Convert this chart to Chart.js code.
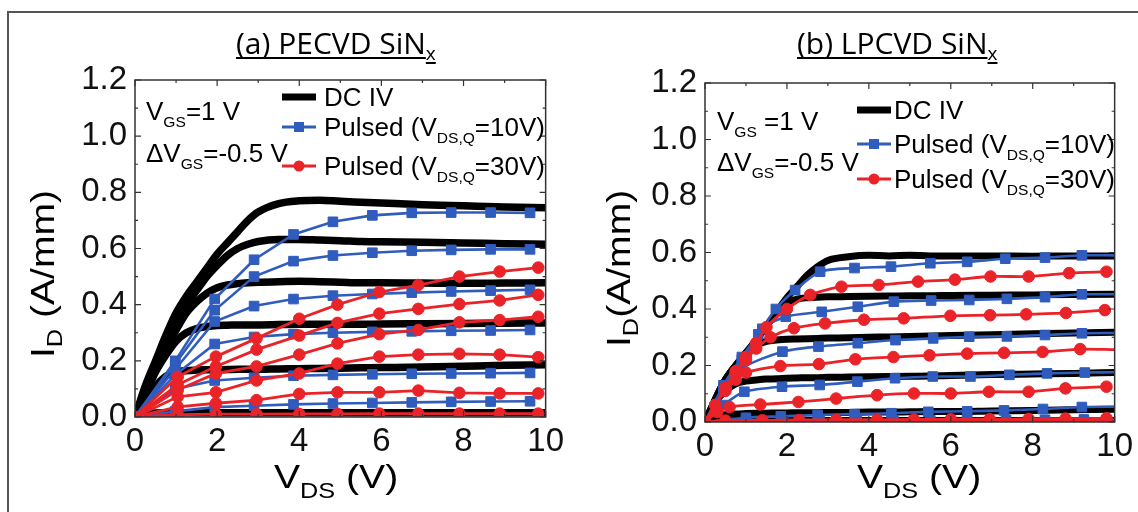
<!DOCTYPE html>
<html>
<head>
<meta charset="utf-8">
<script src="https://cdn.jsdelivr.net/npm/chart.js@4.4.1/dist/chart.umd.min.js"></script>
<style>
  html, body { margin: 0; padding: 0; background: #fff; }
  #wrap { position: relative; width: 1138px; height: 512px; overflow: hidden; background: #fff; }
  #frame { position: absolute; left: 7px; top: 11px; width: 1200px; height: 600px;
           border-left: 2px solid #555; border-top: 2px solid #555; }
  .pane { position: absolute; top: 0; width: 569px; height: 512px; }
</style>
</head>
<body>
<div id="wrap">
  <div id="frame"></div>
  <div class="pane" style="left:0"><canvas id="ca" width="569" height="512"></canvas></div>
  <div class="pane" style="left:569px"><canvas id="cb" width="569" height="512"></canvas></div>
</div>
<script>
// ---- axis ticks ----
const xTicks = [0, 2, 4, 6, 8, 10];
const xMinor = [1, 3, 5, 7, 9];
const yTicks = [0, 0.2, 0.4, 0.6, 0.8, 1.0, 1.2];
const yMinor = [0.1, 0.3, 0.5, 0.7, 0.9, 1.1];

// ---- DC output curves, VDS grid (V) ----
const dcV = [0, 0.25, 0.5, 0.75, 1, 1.25, 1.5, 1.75, 2, 2.25, 2.5, 2.75, 3, 3.5, 4, 4.5, 5, 5.5, 6, 7, 8, 9, 10];

// (a) PECVD SiNx, DC ID (A/mm), VGS = 1 V ... -1.5 V
const dcA1 = [0, 0.11, 0.2, 0.29, 0.37, 0.43, 0.48, 0.53, 0.58, 0.62, 0.66, 0.7, 0.73, 0.76, 0.77, 0.772, 0.768, 0.765, 0.762, 0.756, 0.752, 0.748, 0.745];
const dcA2 = [0, 0.1, 0.19, 0.27, 0.34, 0.4, 0.45, 0.5, 0.54, 0.575, 0.6, 0.615, 0.625, 0.632, 0.632, 0.63, 0.628, 0.625, 0.624, 0.622, 0.62, 0.617, 0.615];
const dcA3 = [0, 0.09, 0.18, 0.25, 0.31, 0.37, 0.41, 0.44, 0.46, 0.47, 0.475, 0.478, 0.48, 0.482, 0.483, 0.482, 0.48, 0.478, 0.478, 0.477, 0.476, 0.477, 0.478];
const dcA4 = [0, 0.08, 0.16, 0.22, 0.27, 0.3, 0.315, 0.322, 0.326, 0.327, 0.328, 0.328, 0.328, 0.329, 0.33, 0.33, 0.33, 0.33, 0.331, 0.332, 0.333, 0.334, 0.335];
const dcA5 = [0, 0.06, 0.11, 0.145, 0.16, 0.165, 0.167, 0.168, 0.168, 0.169, 0.17, 0.17, 0.17, 0.171, 0.172, 0.173, 0.174, 0.175, 0.176, 0.178, 0.181, 0.184, 0.186];
const dcA6 = [0, 0.01, 0.014, 0.015, 0.015, 0.015, 0.015, 0.015, 0.015, 0.015, 0.015, 0.015, 0.015, 0.015, 0.015, 0.015, 0.015, 0.015, 0.015, 0.015, 0.015, 0.015, 0.015];

// (a) pulsed, VDS,Q = 10 V
const pA10V = [0, 0.98, 1.94, 2.9, 3.86, 4.82, 5.78, 6.74, 7.7, 8.66, 9.62];
const pA10_1 = [0, 0.2, 0.42, 0.56, 0.65, 0.695, 0.718, 0.727, 0.728, 0.728, 0.727];
const pA10_2 = [0, 0.19, 0.38, 0.5, 0.555, 0.575, 0.585, 0.592, 0.595, 0.597, 0.597];
const pA10_3 = [0, 0.17, 0.34, 0.395, 0.42, 0.432, 0.438, 0.443, 0.447, 0.45, 0.453];
const pA10_4 = [0, 0.15, 0.26, 0.285, 0.295, 0.3, 0.303, 0.305, 0.307, 0.308, 0.31];
const pA10_5 = [0, 0.1, 0.13, 0.14, 0.147, 0.15, 0.152, 0.154, 0.155, 0.156, 0.157];
const pA10_6 = [0, 0.02, 0.035, 0.04, 0.045, 0.048, 0.05, 0.052, 0.054, 0.055, 0.056];

// (a) pulsed, VDS,Q = 30 V
const pA30V = [0, 1.04, 1.97, 2.96, 4.0, 4.93, 5.95, 6.9, 7.9, 8.88, 9.82];
const pA30_1 = [0, 0.143, 0.215, 0.28, 0.35, 0.4, 0.445, 0.47, 0.5, 0.518, 0.532];
const pA30_2 = [0, 0.115, 0.18, 0.24, 0.29, 0.335, 0.368, 0.385, 0.402, 0.415, 0.435];
const pA30_3 = [0, 0.096, 0.155, 0.18, 0.222, 0.262, 0.295, 0.31, 0.337, 0.345, 0.357];
const pA30_4 = [0, 0.072, 0.088, 0.13, 0.155, 0.19, 0.215, 0.222, 0.225, 0.222, 0.213];
const pA30_5 = [0, 0.036, 0.049, 0.06, 0.082, 0.088, 0.088, 0.094, 0.086, 0.084, 0.084];
const pA30_6 = [0, 0.008, 0.01, 0.01, 0.011, 0.011, 0.012, 0.012, 0.012, 0.012, 0.012];

// (b) LPCVD SiNx, DC ID (A/mm)
const dcB1 = [0, 0.08, 0.15, 0.2, 0.245, 0.29, 0.34, 0.39, 0.44, 0.48, 0.52, 0.55, 0.572, 0.585, 0.59, 0.588, 0.59, 0.588, 0.588, 0.588, 0.587, 0.588, 0.588];
const dcB2 = [0, 0.08, 0.15, 0.2, 0.245, 0.29, 0.34, 0.385, 0.42, 0.435, 0.44, 0.442, 0.443, 0.444, 0.445, 0.446, 0.447, 0.447, 0.448, 0.449, 0.45, 0.451, 0.452];
const dcB3 = [0, 0.08, 0.15, 0.2, 0.235, 0.27, 0.285, 0.29, 0.293, 0.294, 0.295, 0.296, 0.297, 0.298, 0.3, 0.301, 0.303, 0.304, 0.306, 0.309, 0.312, 0.315, 0.318];
const dcB4 = [0, 0.07, 0.11, 0.135, 0.145, 0.149, 0.152, 0.153, 0.155, 0.156, 0.157, 0.157, 0.158, 0.159, 0.16, 0.161, 0.162, 0.163, 0.165, 0.168, 0.17, 0.172, 0.175];
const dcB5 = [0, 0.02, 0.026, 0.028, 0.03, 0.031, 0.031, 0.032, 0.032, 0.033, 0.033, 0.033, 0.034, 0.034, 0.035, 0.035, 0.036, 0.037, 0.037, 0.039, 0.041, 0.043, 0.045];
const dcB6 = [0, 0.003, 0.004, 0.005, 0.005, 0.005, 0.005, 0.005, 0.005, 0.005, 0.005, 0.005, 0.005, 0.005, 0.005, 0.005, 0.005, 0.005, 0.005, 0.005, 0.005, 0.005, 0.005];

// (b) pulsed, VDS,Q = 10 V (last point at 10 V carries no marker)
const pB10V1 = [0, 0.45, 0.9, 1.3, 1.73, 2.2, 2.81, 3.65, 4.54, 5.5, 6.4, 7.33, 8.3, 9.2, 10];
const pB10I1 = [0, 0.13, 0.23, 0.31, 0.4, 0.467, 0.532, 0.545, 0.55, 0.562, 0.567, 0.578, 0.582, 0.59, 0.59];
const pB10V2 = [0, 0.45, 0.9, 1.4, 1.97, 2.85, 3.73, 4.61, 5.52, 6.45, 7.37, 8.3, 9.2, 10];
const pB10I2 = [0, 0.12, 0.22, 0.33, 0.373, 0.39, 0.408, 0.426, 0.43, 0.432, 0.436, 0.442, 0.452, 0.452];
const pB10V3 = [0, 0.45, 0.9, 1.89, 2.77, 3.73, 4.65, 5.57, 6.45, 7.37, 8.3, 9.2, 10];
const pB10I3 = [0, 0.11, 0.19, 0.249, 0.267, 0.279, 0.29, 0.296, 0.302, 0.303, 0.308, 0.314, 0.315];
const pB10V4 = [0, 0.45, 0.96, 1.88, 2.8, 3.72, 4.64, 5.56, 6.48, 7.43, 8.35, 9.27, 10];
const pB10I4 = [0, 0.06, 0.107, 0.125, 0.131, 0.143, 0.155, 0.161, 0.161, 0.167, 0.172, 0.175, 0.176];
const pB10V5 = [0, 1.0, 1.85, 2.75, 3.65, 4.55, 5.45, 6.4, 7.3, 8.25, 9.2, 10];
const pB10I5 = [0, 0.015, 0.02, 0.025, 0.028, 0.031, 0.036, 0.038, 0.041, 0.046, 0.053, 0.054];
const pB10V6 = [0, 1.0, 1.9, 2.8, 3.7, 4.6, 5.5, 6.4, 7.35, 8.3, 9.25, 10];
const pB10I6 = [0, 0.003, 0.004, 0.005, 0.005, 0.006, 0.006, 0.007, 0.007, 0.008, 0.009, 0.009];

// (b) pulsed, VDS,Q = 30 V
const pB30V1 = [0, 0.25, 0.5, 0.75, 1.0, 1.25, 1.5, 2.0, 2.57, 3.33, 4.24, 5.2, 6.1, 6.97, 7.9, 8.89, 9.8];
const pB30I1 = [0, 0.06, 0.12, 0.18, 0.23, 0.28, 0.336, 0.4, 0.45, 0.479, 0.485, 0.497, 0.504, 0.515, 0.515, 0.527, 0.532];
const pB30V2 = [0, 0.25, 0.5, 0.75, 1.0, 1.25, 1.6, 2.17, 2.93, 3.88, 4.85, 5.99, 6.96, 7.84, 8.81, 9.76];
const pB30I2 = [0, 0.06, 0.12, 0.175, 0.22, 0.26, 0.3, 0.332, 0.349, 0.362, 0.367, 0.376, 0.378, 0.381, 0.386, 0.396];
const pB30V3 = [0, 0.25, 0.5, 0.75, 1.0, 1.84, 2.78, 3.67, 4.6, 5.48, 6.4, 7.3, 8.24, 9.16, 10];
const pB30I3 = [0, 0.06, 0.11, 0.15, 0.175, 0.198, 0.205, 0.222, 0.23, 0.236, 0.242, 0.245, 0.248, 0.258, 0.256];
const pB30V4 = [0, 0.3, 0.6, 1.35, 2.28, 3.2, 4.2, 5.1, 6.0, 6.93, 7.9, 8.8, 9.8];
const pB30I4 = [0, 0.035, 0.053, 0.062, 0.071, 0.083, 0.095, 0.101, 0.101, 0.107, 0.107, 0.119, 0.125];
const pB30V5 = [0, 0.5, 1.4, 2.3, 3.2, 4.2, 5.1, 6.0, 6.95, 7.9, 8.8, 9.8];
const pB30I5 = [0, 0.005, 0.006, 0.007, 0.008, 0.008, 0.009, 0.01, 0.01, 0.011, 0.012, 0.013];
const pB30V6 = [0, 0.5, 1.4, 2.3, 3.2, 4.2, 5.1, 6.0, 6.95, 7.9, 8.8, 9.8];
const pB30I6 = [0, 0.001, 0.002, 0.002, 0.002, 0.002, 0.002, 0.003, 0.003, 0.003, 0.003, 0.003];

const BLUE = '#2f5cbd';
const RED = '#ea2328';
const SANS = '"Liberation Sans", Arial, sans-serif';
const TITLE_FONT = '"Open Sans", "Noto Sans", sans-serif';

const pts = (V, I) => V.map((v, i) => ({ x: v, y: I[i] }));

// draw a run of text pieces [text, size, dy] left to right, optionally widened by sx
function rich(ctx, x, y, parts, family, sx = 1) {
  ctx.save();
  ctx.translate(x, y);
  ctx.scale(sx, 1);
  let cx = 0;
  for (const [t, size, dy = 0] of parts) {
    ctx.font = size + 'px ' + family;
    ctx.fillText(t, cx, dy);
    cx += ctx.measureText(t).width;
  }
  ctx.restore();
  return x + cx * sx;
}

function legendRow(ctx, p, row, kind) {
  const y = row.y;
  ctx.save();
  ctx.lineCap = 'butt';
  if (kind === 'dc') {
    ctx.strokeStyle = '#000'; ctx.lineWidth = 7;
    ctx.beginPath(); ctx.moveTo(p.legX0, y); ctx.lineTo(p.legX1, y); ctx.stroke();
  } else {
    const c = kind === 'p10' ? BLUE : RED;
    ctx.strokeStyle = c; ctx.fillStyle = c; ctx.lineWidth = 3;
    ctx.beginPath(); ctx.moveTo(p.legX0, y); ctx.lineTo(p.legX1, y); ctx.stroke();
    const mx = (p.legX0 + p.legX1) / 2;
    if (kind === 'p10') ctx.fillRect(mx - 5, y - 5, 10, 10);
    else { ctx.beginPath(); ctx.arc(mx, y, 5.5, 0, Math.PI * 2); ctx.fill(); }
  }
  ctx.restore();
  ctx.fillStyle = '#000';
  ctx.textBaseline = 'alphabetic';
  rich(ctx, p.legText, y + 9, row.parts, SANS, 1.04);
}

const textPlugin = {
  id: 'panelText',
  afterDatasetsDraw(chart) {
    const p = chart.options.plugins.panelText;
    const ctx = chart.ctx;
    const a = chart.chartArea;
    const xs = chart.scales.x, ys = chart.scales.y;
    ctx.save();
    // plot frame
    ctx.strokeStyle = '#333'; ctx.lineWidth = 1.5;
    ctx.strokeRect(a.left, a.top, a.right - a.left, a.bottom - a.top);
    // inward tick marks on all four sides
    const tickX = (vals, len) => {
      vals.forEach(v => {
        const px = xs.getPixelForValue(v);
        ctx.beginPath();
        ctx.moveTo(px, a.bottom); ctx.lineTo(px, a.bottom - len);
        ctx.moveTo(px, a.top); ctx.lineTo(px, a.top + len);
        ctx.stroke();
      });
    };
    const tickY = (vals, len) => {
      vals.forEach(v => {
        const py = ys.getPixelForValue(v);
        ctx.beginPath();
        ctx.moveTo(a.left, py); ctx.lineTo(a.left + len, py);
        ctx.moveTo(a.right, py); ctx.lineTo(a.right - len, py);
        ctx.stroke();
      });
    };
    ctx.lineWidth = 1.2;
    tickX(xTicks, 6); tickX(xMinor, 3);
    tickY(yTicks, 6); tickY(yMinor, 3);

    ctx.textBaseline = 'alphabetic';
    ctx.textAlign = 'left';

    // panel title, underlined
    const t = p.title;
    ctx.fillStyle = '#000';
    ctx.font = '500 ' + t.size + 'px ' + TITLE_FONT;
    ctx.fillText(t.main, t.x, t.y);
    const mainEnd = t.x + ctx.measureText(t.main).width;
    ctx.font = '500 ' + t.subSize + 'px ' + TITLE_FONT;
    ctx.fillText(t.sub, mainEnd, t.y + t.subDy);
    const subEnd = mainEnd + ctx.measureText(t.sub).width;
    ctx.strokeStyle = '#000'; ctx.lineWidth = 1.8;
    ctx.beginPath();
    ctx.moveTo(t.x, t.y + 4); ctx.lineTo(mainEnd, t.y + 4);
    ctx.moveTo(mainEnd, t.y + t.subDy + 3); ctx.lineTo(subEnd, t.y + t.subDy + 3);
    ctx.stroke();

    ctx.fillStyle = '#000';
    // y axis title (rotated)
    ctx.save();
    ctx.translate(p.yTitle.x, p.yTitle.y);
    ctx.rotate(-Math.PI / 2);
    rich(ctx, 0, 0, p.yTitle.parts, SANS, 1.15);
    ctx.restore();
    // x axis title
    rich(ctx, p.xTitle.x, p.xTitle.y, p.xTitle.parts, SANS, 1.15);

    // bias conditions
    p.notes.forEach(n => rich(ctx, n.x, n.y, n.parts, SANS, 1.04));

    // legend
    legendRow(ctx, p, p.legend[0], 'dc');
    legendRow(ctx, p, p.legend[1], 'p10');
    legendRow(ctx, p, p.legend[2], 'p30');
    ctx.restore();
  }
};

function legendParts(q) {
  return [
    { y: q[0], parts: [['DC IV', 25]] },
    { y: q[1], parts: [['Pulsed (V', 25], ['DS,Q', 15, 7], ['=10V)', 25]] },
    { y: q[2], parts: [['Pulsed (V', 25], ['DS,Q', 15, 7], ['=30V)', 25]] }
  ];
}

function buildChart(id, cfg) {
  const datasets = [];
  cfg.dc.forEach(I => datasets.push({
    data: pts(dcV, I), borderColor: '#000', borderWidth: cfg.dcWidth,
    pointRadius: 0, cubicInterpolationMode: 'monotone', order: 3
  }));
  cfg.p10.forEach(([V, I, bare]) => datasets.push({
    data: pts(V, I), borderColor: BLUE, backgroundColor: BLUE, borderWidth: 2.6,
    pointStyle: 'rect', pointBorderWidth: 1, pointBorderColor: BLUE, pointBackgroundColor: BLUE,
    pointRadius: c => (bare && c.dataIndex === V.length - 1) ? 0 : 6.8,
    tension: cfg.tension, order: 2
  }));
  cfg.p30.forEach(([V, I, bare]) => datasets.push({
    data: pts(V, I), borderColor: RED, backgroundColor: RED, borderWidth: 2.8,
    pointStyle: 'circle', pointBorderWidth: 1, pointBorderColor: RED, pointBackgroundColor: RED,
    pointRadius: c => (bare && c.dataIndex === V.length - 1) ? 0 : 5.8,
    tension: cfg.tension, order: 1
  }));

  return new Chart(document.getElementById(id), {
    type: 'line',
    data: { datasets },
    plugins: [textPlugin],
    options: {
      responsive: false,
      animation: false,
      events: [],
      layout: { padding: cfg.pad },
      plugins: { legend: { display: false }, tooltip: { enabled: false }, panelText: cfg.text },
      scales: {
        x: {
          type: 'linear', min: 0, max: 10,
          afterBuildTicks: s => { s.ticks = xTicks.map(v => ({ value: v })); },
          afterFit: s => { s.height = cfg.xH; },
          ticks: { font: { family: SANS, size: 33 }, color: '#111', padding: cfg.xPad,
                   maxRotation: 0, autoSkip: false, callback: v => String(v) },
          grid: { display: false, drawTicks: false },
          border: { display: false }
        },
        y: {
          type: 'linear', min: 0, max: 1.2,
          afterBuildTicks: s => { s.ticks = yTicks.map(v => ({ value: v })); },
          afterFit: s => { s.width = cfg.yW; },
          ticks: { font: { family: SANS, size: 33 }, color: '#111', padding: 8,
                   autoSkip: false, callback: v => v.toFixed(1) },
          grid: { display: false, drawTicks: false },
          border: { display: false }
        }
      }
    }
  });
}

buildChart('ca', {
  dc: [dcA1, dcA2, dcA3, dcA4, dcA5, dcA6],
  p10: [[pA10V, pA10_1], [pA10V, pA10_2], [pA10V, pA10_3], [pA10V, pA10_4], [pA10V, pA10_5], [pA10V, pA10_6]],
  p30: [[pA30V, pA30_1], [pA30V, pA30_2], [pA30V, pA30_3], [pA30V, pA30_4], [pA30V, pA30_5], [pA30V, pA30_6]],
  dcWidth: 7.5, tension: 0,
  pad: { left: 56, right: 18, top: 80, bottom: 40 }, yW: 79, xH: 55, xPad: 5,
  text: {
    title: { main: '(a) PECVD SiN', sub: 'x', x: 236, y: 54, size: 30, subSize: 19, subDy: 6 },
    yTitle: { x: 54, y: 358, parts: [['I', 34], ['D', 22, 8], [' (A/mm)', 34]] },
    xTitle: { x: 274, y: 488, parts: [['V', 34], ['DS', 22, 10], [' (V)', 34]] },
    notes: [
      { x: 146, y: 120, parts: [['V', 25], ['GS', 15, 7], ['=1 V', 25]] },
      { x: 146, y: 162, parts: [['\u0394V', 25], ['GS', 15, 7], ['=-0.5 V', 25]] }
    ],
    legX0: 282, legX1: 316, legText: 324,
    legend: legendParts([97, 127, 166])
  }
});

buildChart('cb', {
  dc: [dcB1, dcB2, dcB3, dcB4, dcB5, dcB6],
  p10: [[pB10V1, pB10I1, true], [pB10V2, pB10I2, true], [pB10V3, pB10I3, true],
        [pB10V4, pB10I4, true], [pB10V5, pB10I5, true], [pB10V6, pB10I6, true]],
  p30: [[pB30V1, pB30I1], [pB30V2, pB30I2], [pB30V3, pB30I3, true],
        [pB30V4, pB30I4], [pB30V5, pB30I5], [pB30V6, pB30I6]],
  dcWidth: 7, tension: 0.25,
  pad: { left: 56, right: 18, top: 83, bottom: 40 }, yW: 80, xH: 50, xPad: 5,
  text: {
    title: { main: '(b) LPCVD SiN', sub: 'x', x: 228, y: 54, size: 30, subSize: 19, subDy: 6 },
    yTitle: { x: 61, y: 347, parts: [['I', 34], ['D', 22, 8], ['(A/mm)', 34]] },
    xTitle: { x: 288, y: 488, parts: [['V', 34], ['DS', 22, 10], [' (V)', 34]] },
    notes: [
      { x: 148, y: 130, parts: [['V', 25], ['GS', 15, 7], [' =1 V', 25]] },
      { x: 148, y: 171, parts: [['\u0394V', 25], ['GS', 15, 7], ['=-0.5 V', 25]] }
    ],
    legX0: 288, legX1: 322, legText: 325,
    legend: legendParts([110, 144, 179])
  }
});
</script>
</body>
</html>
